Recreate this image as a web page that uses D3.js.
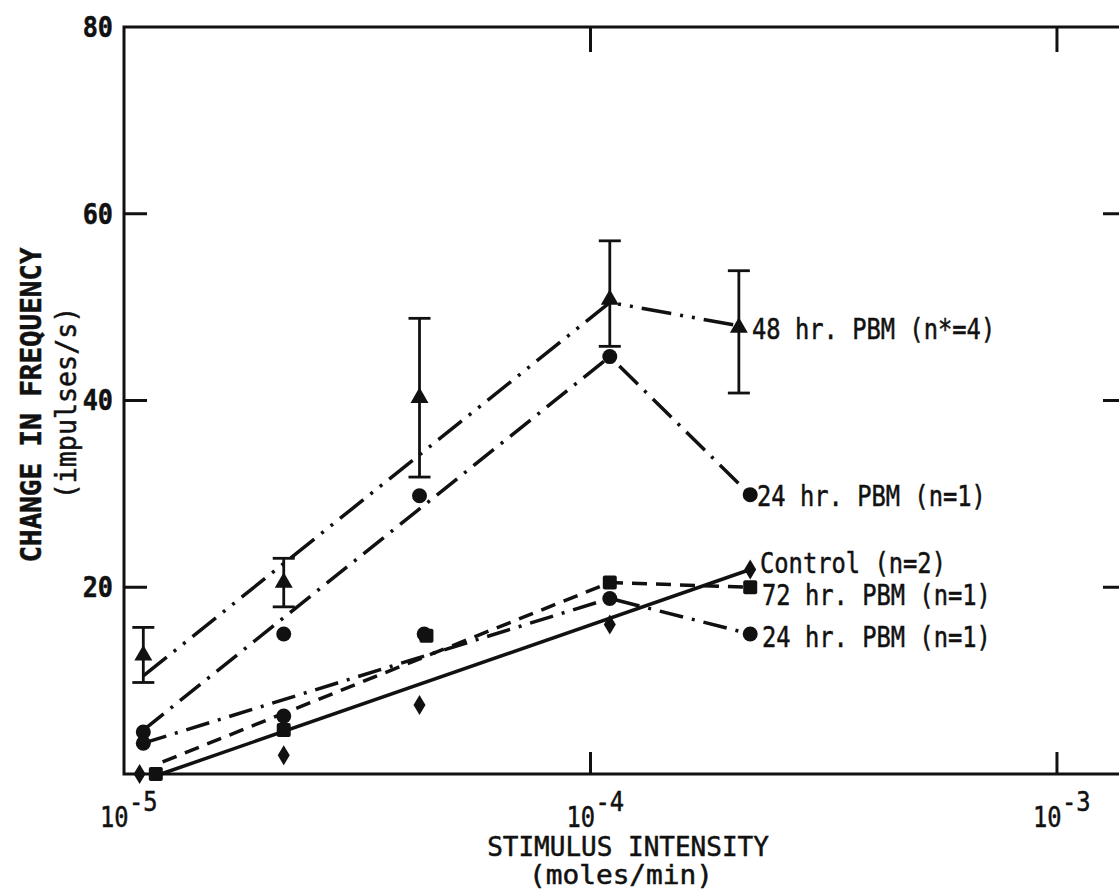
<!DOCTYPE html>
<html>
<head>
<meta charset="utf-8">
<script src="https://cdn.jsdelivr.net/npm/d3@7"></script>
<style>
  html, body { margin: 0; padding: 0; background: #fff; }
  svg { display: block; }
  text { fill: #111; stroke: #111; stroke-width: 0.5; font-family: "DejaVu Sans Mono", monospace; }
</style>
</head>
<body>
<div id="content"></div>
<script>
// Chart size
const width = 1119;
const height = 894;

// Axis ticks
const xTicks = [1e-5, 1e-4, 1e-3];
const xTickExp = ["-5", "-4", "-3"];
const yTicks = [20, 40, 60, 80];

// 48 hr. PBM (n*=4), triangles with error bars
const dose48 = [1.1e-5, 2.2e-5, 4.3e-5, 1.1e-4, 2.08e-4];
const mean48 = [12.7, 20.5, 40.3, 50.8, 47.8];
const low48 = [9.8, 17.9, 31.8, 45.8, 40.8];
const high48 = [15.7, 23.1, 48.8, 57.1, 53.9];
const line48 = [[1.1e-5, 10.5], [1.1e-4, 50.5], [2.08e-4, 48]];

// 24 hr. PBM (n=1), upper curve, circles
const doseA24 = [1.1e-5, 2.2e-5, 4.3e-5, 1.1e-4, 2.2e-4];
const valA24 = [4.5, 15, 29.8, 44.7, 29.9];
const lineA24 = [[1.1e-5, 4.7], [1.1e-4, 44.7], [2.2e-4, 29.9]];

// 24 hr. PBM (n=1), lower curve, circles
const doseB24 = [1.1e-5, 2.2e-5, 4.4e-5, 1.1e-4, 2.2e-4];
const valB24 = [3.3, 6.2, 15, 18.8, 15];
const lineB24 = [[1.1e-5, 3.3], [1.1e-4, 18.8], [2.2e-4, 15]];

// 72 hr. PBM (n=1), squares
const dose72 = [1.17e-5, 2.2e-5, 4.45e-5, 1.1e-4, 2.2e-4];
const val72 = [0, 4.7, 14.8, 20.5, 20];
const line72 = [[1.21e-5, 1.3], [1.1e-4, 20.5], [2.2e-4, 20]];

// Control (n=2), diamonds
const doseCtl = [1.08e-5, 2.2e-5, 4.3e-5, 1.1e-4, 2.2e-4];
const valCtl = [0, 2.0, 7.4, 16, 21.9];
const lineCtl = [[1.2e-5, 0], [2.2e-4, 21.9]];

// Curve labels, placed at the right end of each curve
const labelText = ["48 hr. PBM (n*=4)", "24 hr. PBM (n=1)", "Control (n=2)", "72 hr. PBM (n=1)", "24 hr. PBM (n=1)"];
const labelY = [47.7, 29.8, 22.6, 19.2, 14.7];

const mLeft = 124, mRight = 1126, mTop = 27, mBottom = 774;

const x = d3.scaleLog().domain([1e-5, 1.406e-3]).range([mLeft, mRight]);
const y = d3.scaleLinear().domain([0, 80]).range([mBottom, mTop]);

const svg = d3.select("#content")
  .append("svg")
  .attr("width", width)
  .attr("height", height);

// narrow typewriter-like text: mono font squeezed horizontally
function ctext(str, tx, ty, size, sx, opts = {}) {
  return svg.append("text")
    .attr("transform", `translate(${tx},${ty})${opts.rotate ? " rotate(-90)" : ""} scale(${sx},1)`)
    .attr("font-size", size)
    .attr("font-weight", opts.bold ? "bold" : "normal")
    .attr("text-anchor", opts.anchor || "start")
    .attr("dominant-baseline", "central")
    .text(str);
}

// Frame
const frame = svg.append("g")
  .attr("fill", "none")
  .attr("stroke", "#111")
  .attr("stroke-width", 3);

frame.append("path")
  .attr("d", `M${mRight},${mTop}H${mLeft}V${mBottom}H${mRight}`);

// Left and right inward ticks
frame.selectAll("line.yl")
  .data(yTicks.filter(v => v < 80))
  .enter().append("line")
  .attr("x1", mLeft).attr("x2", mLeft + 23)
  .attr("y1", d => y(d)).attr("y2", d => y(d));

frame.selectAll("line.yr")
  .data(yTicks.filter(v => v < 80))
  .enter().append("line")
  .attr("x1", mRight).attr("x2", mRight - 23)
  .attr("y1", d => y(d)).attr("y2", d => y(d));

// Top and bottom inward ticks
frame.selectAll("line.xt")
  .data(xTicks.slice(1))
  .enter().append("line")
  .attr("x1", d => x(d)).attr("x2", d => x(d))
  .attr("y1", mTop).attr("y2", mTop + 25);

frame.selectAll("line.xb")
  .data(xTicks.slice(1))
  .enter().append("line")
  .attr("x1", d => x(d)).attr("x2", d => x(d))
  .attr("y1", mBottom).attr("y2", mBottom - 22);

// Y tick labels
yTicks.forEach(v => {
  ctext(String(v), 113, y(v), 28, 0.9, { bold: true, anchor: "end" });
});

// X tick labels, 10 with superscript exponent
xTicks.forEach((v, i) => {
  const px = x(v);
  ctext("10", px - 24, 817, 29, 0.82);
  ctext(xTickExp[i], px + 5, 801, 27, 0.88);
});

// Axis titles
ctext("CHANGE IN FREQUENCY", 31, 405, 29, 0.95, { bold: true, anchor: "middle", rotate: true });
ctext("(impulses/s)", 66, 403, 29, 0.92, { anchor: "middle", rotate: true });
ctext("STIMULUS INTENSITY", 628, 847, 26, 1.0, { anchor: "middle" });
ctext("(moles/min)", 621, 875, 26, 1.07, { anchor: "middle" });

// Curves
const line = d3.line().x(d => x(d[0])).y(d => y(d[1]));
const curves = svg.append("g")
  .attr("fill", "none")
  .attr("stroke", "#111")
  .attr("stroke-width", 3.5);

curves.append("path").datum(line48).attr("d", line)
  .attr("stroke-dasharray", "30,9,3,9,3,9");
curves.append("path").datum(lineA24).attr("d", line)
  .attr("stroke-dasharray", "26,9,3,9");
curves.append("path").datum(lineB24).attr("d", line)
  .attr("stroke-dasharray", "24,9,3,9");
curves.append("path").datum(line72).attr("d", line)
  .attr("stroke-dasharray", "15,9");
curves.append("path").datum(lineCtl).attr("d", line);

// Error bars for 48 hr
const err = svg.append("g").attr("stroke", "#111").attr("stroke-width", 2.8);
dose48.forEach((d, i) => {
  const px = x(d);
  err.append("line").attr("x1", px).attr("x2", px).attr("y1", y(low48[i])).attr("y2", y(high48[i]));
  err.append("line").attr("x1", px - 11).attr("x2", px + 11).attr("y1", y(low48[i])).attr("y2", y(low48[i]));
  err.append("line").attr("x1", px - 11).attr("x2", px + 11).attr("y1", y(high48[i])).attr("y2", y(high48[i]));
});

// Markers
const marks = svg.append("g").attr("fill", "#111");

marks.selectAll("path.tri")
  .data(d3.zip(dose48, mean48))
  .enter().append("path")
  .attr("d", d3.symbol(d3.symbolTriangle, 140))
  .attr("transform", d => `translate(${x(d[0])},${y(d[1])})`);

marks.selectAll("circle.a")
  .data(d3.zip(doseA24, valA24).concat(d3.zip(doseB24, valB24)))
  .enter().append("circle")
  .attr("cx", d => x(d[0]))
  .attr("cy", d => y(d[1]))
  .attr("r", 7.5);

marks.selectAll("rect.sq")
  .data(d3.zip(dose72, val72))
  .enter().append("rect")
  .attr("x", d => x(d[0]) - 7)
  .attr("y", d => y(d[1]) - 7)
  .attr("width", 14)
  .attr("height", 14)
  .attr("rx", 2);

marks.selectAll("path.dia")
  .data(d3.zip(doseCtl, valCtl))
  .enter().append("path")
  .attr("d", "M0,-10L6,0L0,10L-6,0Z")
  .attr("transform", d => `translate(${x(d[0])},${y(d[1])})`);

// Curve labels
const labelX = [752, 757, 760, 762, 762];
labelText.forEach((s, i) => {
  ctext(s, labelX[i], y(labelY[i]), 29, 0.82);
});
</script>
</body>
</html>
